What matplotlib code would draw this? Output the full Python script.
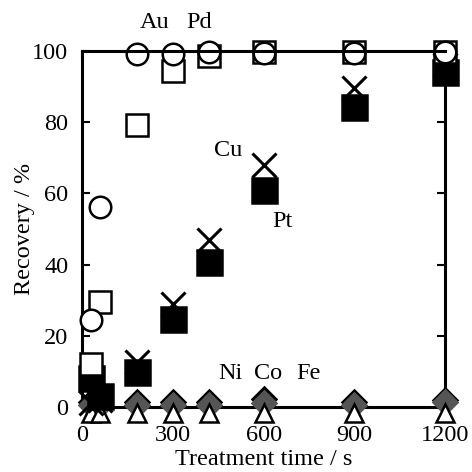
import matplotlib
matplotlib.use("Agg")
import matplotlib.pyplot as plt

plt.rcParams['font.family'] = ['Liberation Serif', 'DejaVu Serif']
plt.rcParams['font.size'] = 17.5

t = [30, 60, 180, 300, 420, 600, 900, 1200]
au = [24.5, 56.2, 99.2, 99.2, 99.8, 99.5, 99.5, 99.8]
pd_ = [12, 29.5, 79.2, 94.4, 98.6, 99.6, 99.6, 99.6]
cu = [1, 2, 12.6, 29, 47, 68, 89.5, 96]
pt = [8, 3, 9.8, 24.7, 40.6, 61, 84.3, 94]
ni = [1.5, 1.5, 1.5, 1.5, 1.5, 2.2, 1.5, 2.0]
co = [0.6, 0.6, 0.6, 0.6, 0.6, 1.2, 0.6, 1.3]
fe = [-1.8, -1.8, -1.8, -1.8, -1.8, -1.8, -1.8, -1.8]

labels = {"Au": (241, 108), "Pd": (387, 108), "Cu": (483, 72), "Pt": (661, 52),
          "Ni": (489, 9.5), "Co": (615, 9.5), "Fe": (747, 9.5)}

fig = plt.figure(figsize=(4.72, 4.72), dpi=100)
ax = fig.add_axes([0.174, 0.138, 0.769, 0.754])

mew = 1.8
kw = dict(linestyle='none', clip_on=False)
ax.plot(t, ni, marker='D', ms=12.5, color='black', mec='black', mew=mew, zorder=3, **kw)
ax.plot(t, co, marker='D', ms=12.5, color='#555555', mec='#555555', mew=mew, zorder=3.1, **kw)
ax.plot(t, fe, marker='^', ms=12.5, mfc='white', mec='black', mew=mew, zorder=3.2, **kw)
ax.plot(t, pt, marker='s', ms=18, color='black', mec='black', mew=mew, zorder=3.3, **kw)
ax.plot(t, cu, marker='x', ms=17, color='black', mew=mew + 0.4, zorder=3.4, **kw)
ax.plot(t, pd_, marker='s', ms=16.5, mfc='white', mec='black', mew=mew, zorder=3.5, **kw)
ax.plot(t, au, marker='o', ms=15.5, mfc='white', mec='black', mew=mew, zorder=3.6, **kw)

for name, (x, y) in labels.items():
    ax.text(x, y, name, ha='center', va='center', fontsize=17.5, clip_on=False)

ax.set_xlim(0, 1200)
ax.set_ylim(0, 100)
ax.set_xticks([0, 300, 600, 900, 1200])
ax.set_yticks([0, 20, 40, 60, 80, 100])
ax.tick_params(direction='in', length=6, width=1.5, top=True, right=True,
               labelsize=17.5)
ax.tick_params(axis='x', pad=13)
ax.tick_params(axis='y', pad=10)
for s in ax.spines.values():
    s.set_linewidth(2.2)
ax.spines['top'].set_zorder(5)
ax.set_xlabel('Treatment time / s', labelpad=2)
ax.set_ylabel('Recovery / %', labelpad=-2)

fig.savefig('out.png', dpi=100)
